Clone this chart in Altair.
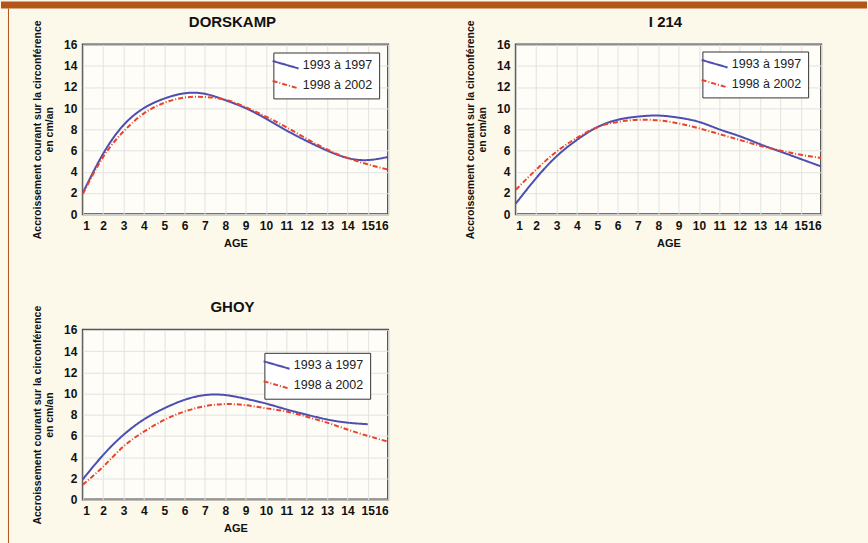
import altair as alt
import pandas as pd

ages = list(range(1, 17))
series_names = ["1993 à 1997", "1998 à 2002"]
panel_titles = ["DORSKAMP", "I 214", "GHOY"]

dors_9397 = [2.0, 5.7, 8.4, 10.0, 10.9, 11.4, 11.35, 10.75, 10.0, 9.0, 7.9, 6.9, 6.0, 5.3, 5.1, 5.4]
dors_9802 = [1.9, 5.4, 7.8, 9.5, 10.5, 11.0, 11.05, 10.8, 10.1, 9.2, 8.2, 7.1, 6.1, 5.3, 4.7, 4.2]
i214_9397 = [1.0, 3.4, 5.45, 7.0, 8.2, 8.9, 9.2, 9.3, 9.1, 8.7, 8.0, 7.35, 6.6, 5.9, 5.2, 4.5]
i214_9802 = [2.3, 4.2, 5.9, 7.2, 8.2, 8.7, 8.9, 8.85, 8.55, 8.1, 7.55, 7.0, 6.45, 6.0, 5.6, 5.3]
ghoy_9397 = [1.9, 4.2, 6.1, 7.55, 8.6, 9.4, 9.85, 9.85, 9.5, 9.05, 8.5, 8.0, 7.55, 7.25, 7.1, None]
ghoy_9802 = [1.4, 3.1, 5.0, 6.4, 7.5, 8.3, 8.8, 9.0, 8.9, 8.6, 8.3, 7.8, 7.25, 6.6, 6.0, 5.45]

FONT = "Liberation Sans"
BLUE = "#4C4EB2"
RED = "#E9432B"
ORANGE = "#B2561A"
CREAM = "#FCF8EA"

legend_pos = [(191, 8), (187, 7), (182, 23)]


def make_df(a, b):
    rows = []
    for s, vals in zip(series_names, [a, b]):
        for x, v in zip(ages, vals):
            if v is not None:
                rows.append({"age": x, "val": v, "serie": s})
    return pd.DataFrame(rows)


def panel(title, a, b, lx, ly, deco=False):
    df = make_df(a, b)
    lines = alt.Chart(df).mark_line(strokeWidth=2, interpolate="natural").encode(
        x=alt.X("age:Q",
                scale=alt.Scale(domain=[1, 16], nice=False),
                axis=alt.Axis(values=ages, title="AGE", grid=True)),
        y=alt.Y("val:Q",
                scale=alt.Scale(domain=[0, 16], nice=False),
                axis=alt.Axis(values=list(range(0, 17, 2)),
                              title=["Accroissement courant sur la circonférence", "en cm/an"],
                              grid=True)),
        color=alt.Color("serie:N",
                        scale=alt.Scale(domain=series_names, range=[BLUE, RED]),
                        legend=alt.Legend(title=None, orient="none", legendX=lx, legendY=ly)),
        strokeDash=alt.StrokeDash("serie:N",
                                  scale=alt.Scale(domain=series_names, range=[[1, 0], [5, 2, 1, 2]]),
                                  legend=alt.Legend(title=None, orient="none", legendX=lx, legendY=ly)),
    )
    ttl = alt.Chart(pd.DataFrame({"t": [title]})).mark_text(
        font=FONT, fontSize=15, fontWeight="bold", color="#111", baseline="middle", align="center"
    ).encode(text="t:N", x=alt.value(150), y=alt.value(-23))
    layers = [ttl, lines]
    if deco:
        band = alt.Chart(pd.DataFrame({"k": [0]})).mark_rect(color=ORANGE).encode(
            x=alt.value(-82), x2=alt.value(786), y=alt.value(-43), y2=alt.value(-36))
        strip = alt.Chart(pd.DataFrame({"k": [0]})).mark_rect(color=ORANGE).encode(
            x=alt.value(-75), x2=alt.value(-74), y=alt.value(-36), y2=alt.value(500))
        layers = [band, strip, ttl, lines]
    return alt.layer(*layers).properties(
        width=306, height=170,
    ).resolve_scale(color="independent", strokeDash="independent")


p1 = panel(panel_titles[0], dors_9397, dors_9802, *legend_pos[0], deco=True)
p2 = panel(panel_titles[1], i214_9397, i214_9802, *legend_pos[1])
p3 = panel(panel_titles[2], ghoy_9397, ghoy_9802, *legend_pos[2])

chart = alt.concat(p1, p2, p3, columns=2, spacing={"row": 116, "column": 128}, bounds="flush").resolve_scale(
    color="independent", strokeDash="independent"
).resolve_legend(color="independent", strokeDash="independent").configure(
    background=CREAM, padding=0
).configure_view(
    fill="#FEFDF7", stroke="#444", strokeWidth=2
).configure_axis(
    labelFont=FONT, labelFontWeight="bold", labelFontSize=12, labelColor="#111",
    titleFont=FONT, titleFontWeight="bold", titleFontSize=10.5, titleColor="#111",
    gridColor="#E2E2E2", gridWidth=1, domain=False, ticks=False,
).configure_axisX(
    labelPadding=6, titlePadding=6, titleFontSize=11
).configure_axisY(
    labelPadding=6, titlePadding=9
).configure_legend(
    labelFont=FONT, labelFontSize=12.5, labelColor="#222",
    fillColor="#FFFFFF", strokeColor="#333", padding=6,
    symbolType="M-2.6,-0.75L2.6,0.75", symbolSize=100, symbolStrokeWidth=2,
    rowPadding=4, labelOffset=11,
)

chart.save("out.html", embed_options={"renderer": "svg", "actions": False})
